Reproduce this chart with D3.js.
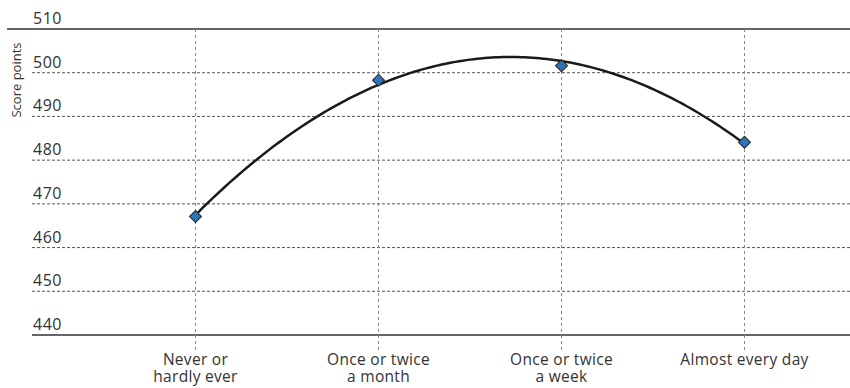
<!DOCTYPE html>
<html><head><meta charset="utf-8">
<script src="https://cdn.jsdelivr.net/npm/d3@7"></script>
<style>body{margin:0;background:#fff}svg{display:block}text{font-family:"Open Sans",Lato,sans-serif;fill:#333}</style>
</head><body><svg id="c" width="850" height="388"></svg>
<script>
const categories = [["Never or","hardly ever"],["Once or twice","a month"],["Once or twice","a week"],["Almost every day"]];
const scores = [467.1, 498.3, 501.6, 484.1];
const yTicks = [440, 450, 460, 470, 480, 490, 500, 510];
const yLabel = "Score points";

(function(){
const svg = d3.select("#c");
const plotLeft = 32, plotRight = 850, yTop = 29, yBottom = 335;
const x = d3.scaleBand().domain(d3.range(categories.length)).range([104, 836]);
const cx = i => x(i) + x.bandwidth()/2;
const y = d3.scaleLinear().domain([440, 510]).range([yBottom, yTop]);

// horizontal gridlines
yTicks.forEach(t => {
  const solid = (t === 440 || t === 510);
  svg.append("line").attr("x1", t===510 ? 7 : plotLeft).attr("x2", plotRight)
    .attr("y1", y(t)).attr("y2", y(t))
    .attr("stroke", solid ? "#333" : "#555").attr("stroke-width", solid ? 1.3 : 1)
    .attr("stroke-dasharray", solid ? null : "3,2");
  svg.append("text").attr("x", 33).attr("y", y(t) - 5).attr("font-size", 16)
    .attr("letter-spacing", 0.5).text(t);
});
// vertical gridlines
categories.forEach((c, i) => {
  svg.append("line").attr("x1", cx(i)).attr("x2", cx(i)).attr("y1", yTop).attr("y2", 350)
    .attr("stroke", "#888").attr("stroke-width", 1).attr("stroke-dasharray", "3,3");
  c.forEach((ln, j) => {
    svg.append("text").attr("x", cx(i)).attr("y", 365 + j*17).attr("text-anchor", "middle")
      .attr("font-size", 15.5).attr("letter-spacing", 0.3).text(ln);
  });
});
svg.append("text").attr("transform", `translate(21,80) rotate(-90)`)
  .attr("text-anchor", "middle").attr("font-size", 13).text(yLabel);

// quadratic trend line fitted to the data (least squares)
const n = scores.length;
const xs = d3.range(n);
let S = [0,0,0,0,0], T = [0,0,0];
xs.forEach((xi, k) => { for (let p=0;p<5;p++) S[p]+=Math.pow(xi,p); for (let p=0;p<3;p++) T[p]+=Math.pow(xi,p)*scores[k]; });
const A = [[S[0],S[1],S[2],T[0]],[S[1],S[2],S[3],T[1]],[S[2],S[3],S[4],T[2]]];
for (let i=0;i<3;i++){ for (let j=i+1;j<3;j++){ const f=A[j][i]/A[i][i]; for(let k=i;k<4;k++) A[j][k]-=f*A[i][k]; } }
const coef=[0,0,0];
for (let i=2;i>=0;i--){ let s=A[i][3]; for(let k=i+1;k<3;k++) s-=A[i][k]*coef[k]; coef[i]=s/A[i][i]; }
const step = x.step();
const curve = d3.range(0, n-1+0.001, 0.02).map(t => [cx(0) + t*step, y(coef[0]+coef[1]*t+coef[2]*t*t)]);
svg.append("path").attr("d", d3.line()(curve)).attr("fill","none").attr("stroke","#1a1a1a").attr("stroke-width",2.5);

// diamonds
svg.selectAll(".pt").data(scores).enter().append("path")
  .attr("d", d3.symbol().type(d3.symbolSquare).size(72))
  .attr("transform", (d,i) => `translate(${cx(i)},${y(d)}) rotate(45)`)
  .attr("fill", "#2e75b6").attr("stroke", "#222").attr("stroke-width", 1);
})();
</script></body></html>
